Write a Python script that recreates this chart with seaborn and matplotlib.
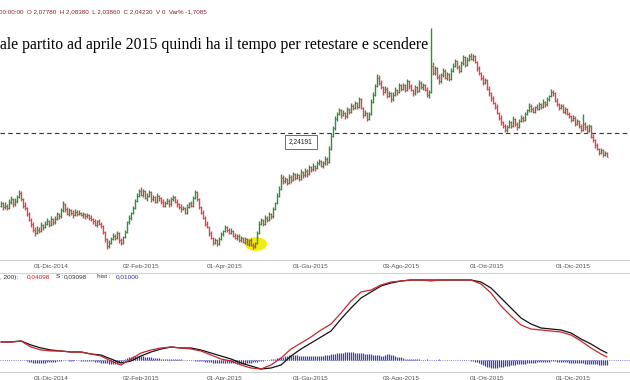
import numpy as np
import pandas as pd
import matplotlib
matplotlib.use("Agg")
import matplotlib.pyplot as plt
from matplotlib.patches import Ellipse
from matplotlib.lines import Line2D
import seaborn as sns

# ---------------- data ----------------
start_date = "2014-10-27"
first_open = 1.64
close = [
    1.66, 1.63, 1.64, 1.62, 1.67, 1.69, 1.65, 1.68, 1.71, 1.74,
    1.69, 1.64, 1.62, 1.57, 1.52, 1.49, 1.44, 1.41, 1.44, 1.43,
    1.48, 1.46, 1.49, 1.51, 1.48, 1.53, 1.50, 1.53, 1.57, 1.55,
    1.60, 1.65, 1.61, 1.57, 1.60, 1.58, 1.56, 1.59, 1.57, 1.58,
    1.56, 1.57, 1.55, 1.56, 1.54, 1.53, 1.51, 1.48, 1.51, 1.49,
    1.47, 1.42, 1.36, 1.30, 1.33, 1.36, 1.39, 1.37, 1.41, 1.35,
    1.33, 1.38, 1.42, 1.50, 1.54, 1.58, 1.62, 1.68, 1.72, 1.76,
    1.73, 1.76, 1.70, 1.72, 1.75, 1.69, 1.71, 1.67, 1.72, 1.70,
    1.67, 1.64, 1.66, 1.68, 1.65, 1.69, 1.71, 1.67, 1.65, 1.63,
    1.61, 1.62, 1.58, 1.63, 1.66, 1.64, 1.70, 1.75, 1.69, 1.63,
    1.58, 1.54, 1.49, 1.46, 1.41, 1.37, 1.33, 1.35, 1.32, 1.36,
    1.40, 1.43, 1.46, 1.44, 1.41, 1.43, 1.39, 1.37, 1.39, 1.35,
    1.37, 1.34, 1.36, 1.32, 1.35, 1.31, 1.30, 1.33, 1.41, 1.49,
    1.52, 1.49, 1.54, 1.52, 1.57, 1.55, 1.61, 1.66, 1.72, 1.78,
    1.87, 1.84, 1.86, 1.83, 1.88, 1.85, 1.90, 1.87, 1.89, 1.86,
    1.92, 1.89, 1.93, 1.90, 1.96, 1.94, 1.97, 1.95, 1.99, 2.01,
    1.97, 1.99, 2.03, 2.00, 2.11, 2.22, 2.28, 2.36, 2.40, 2.43,
    2.39, 2.41, 2.38, 2.44, 2.42, 2.47, 2.45, 2.49, 2.46, 2.52,
    2.45, 2.39, 2.41, 2.36, 2.40, 2.50, 2.56, 2.63, 2.70, 2.66,
    2.62, 2.58, 2.61, 2.55, 2.57, 2.52, 2.56, 2.60, 2.58, 2.64,
    2.61, 2.64, 2.60, 2.67, 2.63, 2.60, 2.57, 2.62, 2.59, 2.66,
    2.62, 2.64, 2.60, 2.56, 2.58, 2.80, 2.74, 2.78, 2.71, 2.67,
    2.72, 2.76, 2.70, 2.73, 2.69, 2.76, 2.80, 2.84, 2.79, 2.76,
    2.82, 2.87, 2.81, 2.85, 2.88, 2.86, 2.88, 2.83, 2.78, 2.74,
    2.70, 2.66, 2.68, 2.61, 2.57, 2.53, 2.49, 2.46, 2.41, 2.37,
    2.33, 2.30, 2.27, 2.29, 2.33, 2.30, 2.36, 2.32, 2.29, 2.34,
    2.37, 2.35, 2.40, 2.43, 2.47, 2.44, 2.42, 2.46, 2.44, 2.48,
    2.46, 2.50, 2.48, 2.52, 2.55, 2.58, 2.57, 2.51, 2.48, 2.45,
    2.47, 2.42, 2.44, 2.40, 2.38, 2.35, 2.37, 2.32, 2.34, 2.30,
    2.27, 2.32, 2.29, 2.26, 2.30, 2.21, 2.18, 2.14, 2.11, 2.08,
    2.10, 2.06, 2.0778, 2.0423,
]
high = [
    1.68, 1.67, 1.67, 1.65, 1.69, 1.72, 1.70, 1.70, 1.73, 1.77,
    1.76, 1.70, 1.67, 1.63, 1.59, 1.54, 1.50, 1.46, 1.47, 1.46,
    1.50, 1.49, 1.51, 1.54, 1.52, 1.55, 1.54, 1.55, 1.59, 1.58,
    1.62, 1.68, 1.66, 1.63, 1.62, 1.61, 1.60, 1.61, 1.60, 1.60,
    1.59, 1.59, 1.58, 1.58, 1.57, 1.56, 1.54, 1.53, 1.52, 1.53,
    1.50, 1.48, 1.43, 1.37, 1.35, 1.38, 1.41, 1.40, 1.43, 1.42,
    1.37, 1.39, 1.44, 1.51, 1.56, 1.59, 1.64, 1.69, 1.74, 1.78,
    1.79, 1.78, 1.77, 1.74, 1.77, 1.76, 1.73, 1.72, 1.74, 1.73,
    1.71, 1.69, 1.68, 1.70, 1.69, 1.71, 1.73, 1.72, 1.69, 1.66,
    1.65, 1.64, 1.63, 1.65, 1.67, 1.68, 1.72, 1.77, 1.76, 1.70,
    1.64, 1.60, 1.55, 1.51, 1.47, 1.43, 1.38, 1.37, 1.36, 1.38,
    1.42, 1.44, 1.48, 1.47, 1.45, 1.45, 1.44, 1.41, 1.40, 1.40,
    1.39, 1.38, 1.38, 1.37, 1.36, 1.37, 1.33, 1.34, 1.43, 1.51,
    1.54, 1.53, 1.56, 1.55, 1.59, 1.58, 1.63, 1.67, 1.74, 1.80,
    1.90, 1.89, 1.88, 1.87, 1.90, 1.89, 1.92, 1.91, 1.91, 1.90,
    1.94, 1.93, 1.95, 1.94, 1.98, 1.97, 1.99, 1.98, 2.01, 2.03,
    2.02, 2.01, 2.05, 2.04, 2.13, 2.24, 2.30, 2.38, 2.42, 2.45,
    2.44, 2.43, 2.42, 2.46, 2.45, 2.49, 2.48, 2.51, 2.50, 2.54,
    2.53, 2.46, 2.43, 2.42, 2.42, 2.52, 2.58, 2.65, 2.73, 2.72,
    2.68, 2.63, 2.63, 2.62, 2.59, 2.58, 2.58, 2.62, 2.61, 2.66,
    2.65, 2.66, 2.65, 2.69, 2.68, 2.65, 2.61, 2.64, 2.63, 2.68,
    2.67, 2.66, 2.65, 2.62, 2.60, 3.11, 2.83, 2.80, 2.79, 2.73,
    2.74, 2.78, 2.77, 2.75, 2.74, 2.78, 2.82, 2.86, 2.85, 2.81,
    2.84, 2.89, 2.88, 2.87, 2.90, 2.91, 2.90, 2.89, 2.84, 2.80,
    2.75, 2.72, 2.70, 2.69, 2.63, 2.58, 2.55, 2.50, 2.48, 2.42,
    2.39, 2.34, 2.32, 2.31, 2.35, 2.34, 2.38, 2.37, 2.33, 2.36,
    2.39, 2.38, 2.42, 2.44, 2.49, 2.48, 2.46, 2.47, 2.48, 2.50,
    2.49, 2.52, 2.51, 2.54, 2.56, 2.61, 2.60, 2.58, 2.53, 2.49,
    2.48, 2.48, 2.46, 2.45, 2.42, 2.39, 2.39, 2.38, 2.36, 2.35,
    2.32, 2.40, 2.33, 2.31, 2.32, 2.31, 2.23, 2.19, 2.16, 2.12,
    2.12, 2.11, 2.09, 2.0838,
]
low = [
    1.63, 1.60, 1.61, 1.60, 1.61, 1.65, 1.63, 1.64, 1.66, 1.70,
    1.68, 1.62, 1.60, 1.55, 1.51, 1.46, 1.42, 1.39, 1.40, 1.41,
    1.42, 1.44, 1.45, 1.48, 1.46, 1.47, 1.48, 1.49, 1.52, 1.53,
    1.54, 1.59, 1.59, 1.56, 1.55, 1.56, 1.54, 1.55, 1.55, 1.56,
    1.55, 1.54, 1.53, 1.54, 1.52, 1.51, 1.49, 1.47, 1.46, 1.48,
    1.45, 1.40, 1.34, 1.28, 1.29, 1.32, 1.35, 1.35, 1.36, 1.33,
    1.31, 1.32, 1.37, 1.41, 1.49, 1.52, 1.57, 1.61, 1.67, 1.71,
    1.72, 1.71, 1.69, 1.68, 1.71, 1.67, 1.68, 1.66, 1.66, 1.68,
    1.65, 1.63, 1.63, 1.65, 1.63, 1.64, 1.68, 1.66, 1.63, 1.61,
    1.59, 1.60, 1.57, 1.57, 1.62, 1.63, 1.63, 1.69, 1.68, 1.61,
    1.57, 1.53, 1.47, 1.45, 1.39, 1.36, 1.31, 1.32, 1.30, 1.31,
    1.35, 1.39, 1.42, 1.42, 1.40, 1.40, 1.38, 1.36, 1.35, 1.34,
    1.34, 1.33, 1.32, 1.31, 1.30, 1.30, 1.28, 1.29, 1.32, 1.40,
    1.48, 1.47, 1.48, 1.50, 1.51, 1.53, 1.54, 1.60, 1.65, 1.71,
    1.77, 1.82, 1.83, 1.81, 1.82, 1.83, 1.84, 1.85, 1.86, 1.84,
    1.85, 1.87, 1.88, 1.88, 1.89, 1.92, 1.93, 1.93, 1.94, 1.98,
    1.96, 1.95, 1.98, 1.98, 1.99, 2.10, 2.21, 2.27, 2.34, 2.39,
    2.37, 2.38, 2.36, 2.37, 2.40, 2.41, 2.43, 2.44, 2.44, 2.45,
    2.44, 2.37, 2.38, 2.34, 2.35, 2.39, 2.49, 2.55, 2.62, 2.64,
    2.61, 2.56, 2.57, 2.53, 2.54, 2.50, 2.51, 2.55, 2.56, 2.57,
    2.59, 2.60, 2.58, 2.59, 2.61, 2.59, 2.55, 2.56, 2.57, 2.58,
    2.61, 2.60, 2.59, 2.54, 2.53, 2.57, 2.72, 2.72, 2.69, 2.65,
    2.66, 2.71, 2.69, 2.68, 2.67, 2.68, 2.75, 2.79, 2.77, 2.74,
    2.75, 2.81, 2.79, 2.80, 2.84, 2.85, 2.84, 2.82, 2.76, 2.72,
    2.68, 2.64, 2.65, 2.60, 2.55, 2.51, 2.48, 2.44, 2.40, 2.35,
    2.31, 2.28, 2.25, 2.25, 2.28, 2.28, 2.29, 2.30, 2.27, 2.28,
    2.33, 2.33, 2.34, 2.39, 2.42, 2.42, 2.41, 2.41, 2.43, 2.43,
    2.44, 2.45, 2.46, 2.47, 2.51, 2.54, 2.55, 2.50, 2.47, 2.43,
    2.44, 2.41, 2.40, 2.39, 2.37, 2.33, 2.34, 2.30, 2.31, 2.28,
    2.25, 2.26, 2.27, 2.24, 2.25, 2.20, 2.17, 2.12, 2.10, 2.06,
    2.07, 2.04, 2.05, 2.0386,
]
level_line = 2.24191
level_label = "2,24191"
highlight_bar = 127.5      # April 2015 low, circled in yellow
highlight_price = 1.32

tick_dates = ["2014-12-01", "2015-02-02", "2015-04-01", "2015-06-01",
              "2015-08-03", "2015-10-01", "2015-12-01"]
tick_labels = ["01-Dic-2014", "02-Feb-2015", "01-Apr-2015", "01-Giu-2015",
               "03-Ago-2015", "01-Ott-2015", "01-Dic-2015"]

# MACD panel, lines sampled every 5 sessions (+ last)
line_bars = list(range(0, 301, 5)) + [303]
macd = [0.018, 0.018, 0.019, 0.013, 0.010, 0.009, 0.009, 0.008, 0.008, 0.006,
        0.004, -0.001, -0.005, 0.001, 0.007, 0.010, 0.012, 0.013, 0.012, 0.011,
        0.009, 0.005, 0.001, -0.001, -0.005, -0.008, -0.009, -0.005, 0.002, 0.011,
        0.017, 0.023, 0.030, 0.036, 0.047, 0.059, 0.068, 0.070, 0.075, 0.078,
        0.079, 0.080, 0.080, 0.079, 0.080, 0.080, 0.080, 0.080, 0.076, 0.067,
        0.054, 0.044, 0.035, 0.031, 0.030, 0.029, 0.028, 0.025, 0.019, 0.012,
        0.006, 0.003]
signal = [0.018, 0.018, 0.019, 0.015, 0.012, 0.010, 0.009, 0.008, 0.008, 0.006,
          0.005, 0.001, -0.003, -0.001, 0.004, 0.008, 0.011, 0.013, 0.012, 0.012,
          0.010, 0.007, 0.004, 0.001, -0.003, -0.006, -0.009, -0.008, -0.005, 0.004,
          0.011, 0.017, 0.023, 0.029, 0.041, 0.052, 0.062, 0.068, 0.074, 0.077,
          0.079, 0.080, 0.080, 0.080, 0.080, 0.080, 0.080, 0.080, 0.078, 0.072,
          0.062, 0.052, 0.042, 0.036, 0.032, 0.031, 0.030, 0.027, 0.021, 0.016,
          0.010, 0.007]
hist_milli = [
    0, 0, 0, 0, 0, 0, 0, 0, 0, 0, 0, 0, 0,
    -1, -2, -2, -3, -3, -3, -3, -3, -3, -3, -2, -2, -2, -2, -2, -1,
    -1, -1, 0, 0, 0, -1, -1, -1, 0, 0, 0, -1, -1, -1, -1, -1, -1, -1, -2,
    -2, -2, -3, -3, -3, -3, -4, -4, -4, -4, -4, -3, -2, -1,
    1, 2, 3, 3, 4, 4, 4, 4, 4, 4, 3, 3, 3, 3, 2, 2, 2, 2,
    1, 1, 1, 1, 1, 1, 1, 1, 1, 1, 1, 0, 0,
    0, 0, 0, 0, -1, -1, -1, -1, -1, -2,
    -2, -2, -2, -3, -3, -3, -3, -3, -3, -3, -3, -3, -3, -3, -3, -4, -4, -4, -4, -4, -3, -3, -3, -2, -2,
    -2, -1, -1, -1, 0, 0, 0, 1, 1, 1,
    2, 2, 3, 3, 4, 4, 5, 5, 5, 5, 5, 4, 4, 4, 4, 4, 4,
    4, 4, 4, 4, 4, 4, 4, 5, 5, 5,
    6, 6, 6, 7, 7, 7, 7,
    8, 8, 8, 8, 8, 7, 7, 7,
    7, 7, 6, 6, 6, 6, 5,
    5, 5, 5, 4, 4,
    5, 6, 6, 5, 5,
    4, 3, 3, 3, 2,
    1, 1, 1, 1, 1, 1, 1, 1, 0, 0, 0, 1, 0, 0, 0, 0, 0, 1, 0, 0, 0, 0, 0, 0, 0, 0, 0, 0, 0, 0, 0, 0,
    0, -1, -1, -2, -2, -3,
    -4, -5, -6, -7, -7, -8, -8, -8, -8, -7, -7, -7, -6,
    -6, -6, -5, -5, -5, -4, -4, -4, -4, -4,
    -3, -3, -3, -3, -3, -2, -2, -2, -2, -2, -2, -2, -1, -1, -1, -2, -2,
    -2, -2, -2, -2, -3, -3, -3, -3, -3, -3,
    -3, -3, -4, -4, -4, -4, -4, -4, -4, -5, -5, -5, -5, -5,
]

title_text = "ale partito ad aprile 2015 quindi ha il tempo per retestare e scendere"
info_text = "00:00:00  O 2,07780  H 2,08380  L 2,03860  C 2,04230  V 0  Var% -1,7085"

# ---------------- styling ----------------
sns.set_style("white")
plt.rcParams["font.family"] = ["Liberation Sans", "DejaVu Sans"]

UP = "#2f8f3a"
DOWN = "#e0414e"
W, H = 630, 380

def fy(px):
    return 1 - px / H

n = min(len(close), len(high), len(low))
idx = np.arange(n)
c = np.asarray(close[:n], float)
o = np.concatenate([[first_open], c[:-1]])
hi = np.asarray(high[:n], float)
lo = np.asarray(low[:n], float)
bar_cols = np.where(c >= o, UP, DOWN)

dates = pd.bdate_range(start_date, periods=n)
tick_pos = [dates.get_loc(pd.Timestamp(d)) for d in tick_dates]

fig = plt.figure(figsize=(W / 100, H / 100), dpi=100)

# price panel
ax = fig.add_axes([0, fy(260), 1, (260 - 20) / H])
xl = (-0.5, -0.5 + W / 2)
ax.set_xlim(*xl)
ax.set_ylim(level_line - (260 - 133) * 0.0083, level_line + (133 - 20) * 0.0083)

ax.add_patch(Ellipse((highlight_bar, highlight_price), width=11, height=0.115,
                     facecolor="#f3ec12", edgecolor="none", zorder=1))
ax.vlines(idx, lo, hi, colors=bar_cols, lw=1.0, zorder=3)
ax.hlines(o, idx - 0.5, idx, colors=bar_cols, lw=0.7, zorder=3)
ax.hlines(c, idx, idx + 0.5, colors=bar_cols, lw=0.7, zorder=3)
ax.axhline(level_line, color="#333333", lw=0.8, ls=(0, (4, 3)), zorder=2)
ax.annotate(level_label, xy=(150, level_line), xytext=(0, -6.5),
            textcoords="offset points", ha="center", va="center",
            fontsize=4.8, color="#222222",
            bbox=dict(boxstyle="square,pad=0.55", fc="white", ec="#555555", lw=0.6),
            zorder=5)

ax.set_yticks([])
ax.set_xticks(tick_pos)
ax.set_xticklabels(tick_labels, fontsize=4.6, color="#555555")
ax.tick_params(axis="x", length=0, pad=3.2)
for s in ["top", "left", "right"]:
    ax.spines[s].set_visible(False)
ax.spines["bottom"].set_color("#cfcfcf")
ax.spines["bottom"].set_linewidth(0.8)

fig.add_artist(Line2D([0, 1], [fy(272.5)] * 2, color="#d4d4d4", lw=0.8))

# MACD panel
ax2 = fig.add_axes([0, fy(372), 1, (372 - 279) / H])
ax2.set_xlim(*xl)
ax2.set_ylim(-0.012, 0.081)
hist = np.asarray(hist_milli, float) / 1000
hx = np.arange(len(hist))
ax2.axhline(0, color="#5a5ab0", lw=0.6, ls=(0, (1, 1.6)), zorder=1)
ax2.vlines(hx, 0, hist, colors="#4040a8", lw=0.9, zorder=2)
sns.lineplot(x=line_bars, y=signal, ax=ax2, color="#111111", lw=0.9, zorder=4)
sns.lineplot(x=line_bars, y=macd, ax=ax2, color="#c8262e", lw=0.9, zorder=5)
ax2.set_yticks([])
ax2.set_ylabel("")
ax2.set_xticks(tick_pos)
ax2.set_xticklabels(tick_labels, fontsize=4.6, color="#555555")
ax2.tick_params(axis="x", length=0, pad=3.0)
for s in ["top", "left", "right"]:
    ax2.spines[s].set_visible(False)
ax2.spines["bottom"].set_color("#cfcfcf")
ax2.spines["bottom"].set_linewidth(0.8)

# texts
fig.text(-1 / W, fy(12), info_text, fontsize=4.5, color="#8a2020", va="center", ha="left")
fig.text(0, fy(45), title_text, family=["Liberation Serif", "DejaVu Serif"],
         fontsize=11.3, color="black", va="center", ha="left")
row_y = fy(277)
fig.text(0 / W, row_y, ", 200):", fontsize=4.6, color="#333333", va="center")
fig.text(27 / W, row_y, "0,04098", fontsize=4.6, color="#cc2222", va="center")
fig.text(56 / W, row_y, "S :", fontsize=4.6, color="#333333", va="center")
fig.text(64 / W, row_y, "0,03098", fontsize=4.6, color="#333333", va="center")
fig.text(97 / W, row_y, "hist :", fontsize=4.6, color="#333333", va="center")
fig.text(116 / W, row_y, "0,01000", fontsize=4.6, color="#3030b0", va="center")

fig.savefig("out.png", dpi=100)
